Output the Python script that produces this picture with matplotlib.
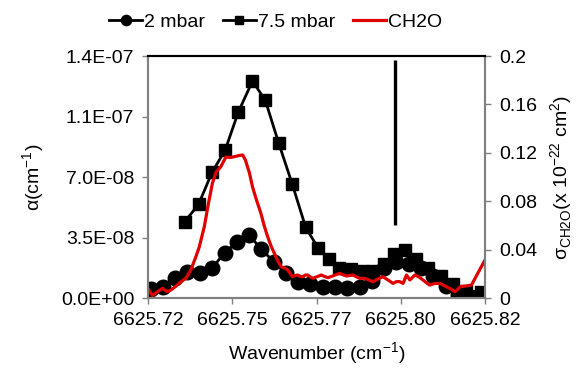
import matplotlib
matplotlib.use('Agg')
import matplotlib.pyplot as plt

plt.rcParams['font.family'] = ['Liberation Sans', 'DejaVu Sans']
plt.rcParams['mathtext.fontset'] = 'custom'
plt.rcParams['mathtext.rm'] = 'Liberation Sans'

# 2 mbar (circles), alpha in cm-1
wn_2 = [6625.7208, 6625.7244, 6625.7281, 6625.7317, 6625.7354, 6625.7390, 6625.7427,
        6625.7463, 6625.7500, 6625.7536, 6625.7573, 6625.7609, 6625.7646, 6625.7682,
        6625.7718, 6625.7755, 6625.7791, 6625.7828, 6625.7864, 6625.7901, 6625.7937,
        6625.7974, 6625.8010, 6625.8047, 6625.8083, 6625.8120, 6625.8156]
alpha_2 = [5.0e-9, 6.5e-9, 1.17e-8, 1.49e-8, 1.43e-8, 1.75e-8, 2.59e-8,
           3.26e-8, 3.64e-8, 2.83e-8, 2.10e-8, 1.43e-8, 9.4e-9, 7.9e-9,
           6.5e-9, 6.5e-9, 5.8e-9, 6.4e-9, 9.8e-9, 1.74e-8, 2.08e-8,
           1.97e-8, 1.74e-8, 1.27e-8, 6.9e-9, 1.7e-9, 6e-10]

# 7.5 mbar (squares)
wn_75 = [6625.7309, 6625.7350, 6625.7390, 6625.7429, 6625.7468, 6625.7510, 6625.7548,
         6625.7588, 6625.7628, 6625.7668, 6625.7704, 6625.7736, 6625.7768, 6625.7801,
         6625.7834, 6625.7867, 6625.7899, 6625.7931, 6625.7963, 6625.7996, 6625.8030,
         6625.8069, 6625.8105, 6625.8143, 6625.8188]
alpha_75 = [4.41e-8, 5.42e-8, 7.27e-8, 8.56e-8, 1.076e-7, 1.255e-7, 1.144e-7,
            8.95e-8, 6.59e-8, 4.08e-8, 2.92e-8, 2.26e-8, 1.74e-8, 1.65e-8,
            1.59e-8, 1.56e-8, 1.97e-8, 2.55e-8, 2.78e-8, 2.26e-8, 1.74e-8,
            1.27e-8, 8.1e-9, 4.3e-9, 3.5e-9]

# CH2O cross section (x 1e-22 cm2)
wn_ch2o = [6625.7203, 6625.7213, 6625.7227, 6625.7243, 6625.7257, 6625.7268, 6625.7280,
           6625.7292, 6625.7312, 6625.7327, 6625.7342, 6625.7352, 6625.7367, 6625.7379,
           6625.7391, 6625.7402, 6625.7416, 6625.7431, 6625.7444, 6625.7456, 6625.7471,
           6625.7481, 6625.7489, 6625.7501, 6625.7510, 6625.7521, 6625.7535, 6625.7545,
           6625.7555, 6625.7565, 6625.7575, 6625.7584, 6625.7595, 6625.7605, 6625.7615,
           6625.7623, 6625.7629, 6625.7637, 6625.7644, 6625.7651, 6625.7659, 6625.7667,
           6625.7674, 6625.7682, 6625.7689, 6625.7700, 6625.7714, 6625.7724, 6625.7734,
           6625.7748, 6625.7768, 6625.7788, 6625.7808, 6625.7828, 6625.7843, 6625.7855,
           6625.7868, 6625.7882, 6625.7897, 6625.7912, 6625.7927, 6625.7938, 6625.7947,
           6625.7957, 6625.7967, 6625.7977, 6625.7992, 6625.8004, 6625.8016, 6625.8027,
           6625.8036, 6625.8051, 6625.8066, 6625.8086, 6625.8099, 6625.8111, 6625.8120,
           6625.8126, 6625.8143, 6625.8160, 6625.8179, 6625.8200]
sigma_ch2o = [0.0066, 0.0021, 0.0050, 0.0080, 0.0052, 0.0066, 0.0091,
              0.0121, 0.0163, 0.0231, 0.0341, 0.0421, 0.0589, 0.0777,
              0.0948, 0.1041, 0.1085, 0.1165, 0.1161, 0.1168, 0.1178,
              0.1182, 0.1140, 0.1033, 0.0920, 0.0818, 0.0700, 0.0595,
              0.0507, 0.0430, 0.0369, 0.0314, 0.0259, 0.0248, 0.0231,
              0.0198, 0.0176, 0.0186, 0.0190, 0.0178, 0.0176, 0.0190,
              0.0190, 0.0174, 0.0163, 0.0174, 0.0190, 0.0178, 0.0168,
              0.0182, 0.0204, 0.0182, 0.0190, 0.0163, 0.0163, 0.0149,
              0.0135, 0.0157, 0.0176, 0.0149, 0.0121, 0.0136, 0.0135,
              0.0121, 0.0190, 0.0149, 0.0190, 0.0174, 0.0149, 0.0124,
              0.0107, 0.0120, 0.0121, 0.0093, 0.0074, 0.0052, 0.0074,
              0.0093, 0.0099, 0.0107, 0.0207, 0.0314]

# vertical marker line
line_wn = 6625.7934
line_lo, line_hi = 4.22e-8, 1.377e-7

x_ticks = [6625.72, 6625.745, 6625.77, 6625.795, 6625.82]
x_labels = ['6625.72', '6625.75', '6625.77', '6625.80', '6625.82']
y_ticks = [0, 3.5e-8, 7.0e-8, 1.05e-7, 1.4e-7]
y_labels = ['0.0E+00', '3.5E-08', '7.0E-08', '1.1E-07', '1.4E-07']
y2_ticks = [0, 0.04, 0.08, 0.12, 0.16, 0.2]
y2_labels = ['0', '0.04', '0.08', '0.12', '0.16', '0.2']

fs = 14
grey = '#808080'

fig = plt.figure(figsize=(5.8, 3.68), dpi=100)
ax = fig.add_axes([0.2552, 0.1902, 0.5810, 0.6576])
ax2 = ax.twinx()

l1, = ax.plot(wn_2, alpha_2, color='black', lw=2.0, marker='o', ms=10.5, label='2 mbar')
l2, = ax.plot(wn_75, alpha_75, color='black', lw=2.0, marker='s', ms=8.5, label='7.5 mbar')
ax.vlines(line_wn, line_lo, line_hi, color='black', lw=2.4)
l3, = ax2.plot(wn_ch2o, sigma_ch2o, color='#e00000', lw=2.3, label='CH2O')

ax.set_xlim(6625.72, 6625.82)
ax.set_ylim(0, 1.4e-7)
ax2.set_ylim(0, 0.2)
ax.set_xticks(x_ticks)
ax.set_xticklabels(x_labels, fontsize=fs)
ax.set_yticks(y_ticks)
ax.set_yticklabels(y_labels, fontsize=fs)
ax2.set_yticks(y2_ticks)
ax2.set_yticklabels(y2_labels, fontsize=fs)

for a in (ax, ax2):
    for s in ('left', 'right', 'bottom'):
        a.spines[s].set_color(grey)
        a.spines[s].set_linewidth(1.5)
    a.spines['top'].set_color('black')
    a.spines['top'].set_linewidth(1.5)
    a.tick_params(direction='out', length=4, width=1, color=grey, pad=6)

ax.set_xlabel('Wavenumber (cm$^{\\mathregular{-1}}$)', fontsize=fs, labelpad=8)
ax.set_ylabel('\u03b1(cm$^{\\mathregular{-1}}$)', fontsize=fs, labelpad=10)
ax2.set_ylabel('\u03c3$_{\\mathregular{CH2O}}$(x 10$^{\\mathregular{-22}}$ cm$^{\\mathregular{2}}$)',
               fontsize=fs, labelpad=8)

fig.legend(handles=[l1, l2, l3], loc='center', bbox_to_anchor=(0.475, 0.94), ncol=3,
           frameon=False, fontsize=fs, handlelength=1.7, handletextpad=0.1,
           columnspacing=0.9, markerscale=0.7)

fig.savefig('out.png', dpi=100)
